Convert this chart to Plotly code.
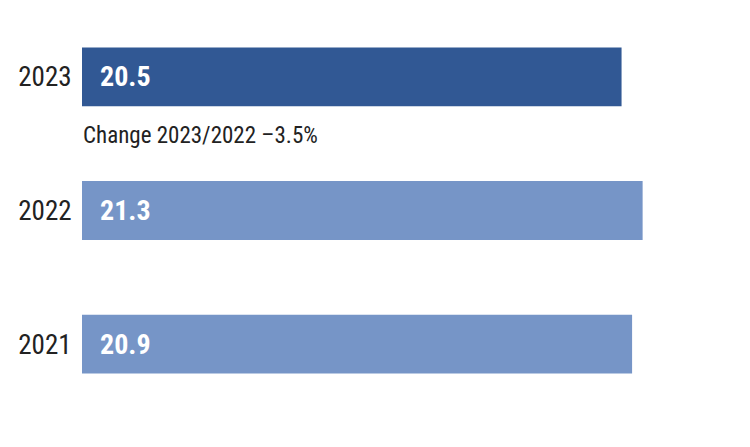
"""Horizontal bars for 2021-2023 with year-on-year change note."""

import plotly.graph_objects as go

YEARS = ["2021", "2022", "2023"]
VALUES = [20.9, 21.3, 20.5]
COLORS = ["#7695c7", "#7695c7", "#315894"]
CHANGE_NOTE = "Change 2023/2022 \u20133.5%"

FONT = "Roboto Condensed, DejaVu Sans Condensed, Liberation Sans Narrow, Roboto, sans-serif"

fig = go.Figure(
    go.Bar(
        x=VALUES,
        y=YEARS,
        orientation="h",
        marker=dict(color=COLORS, line=dict(width=0)),
        width=0.44,
        hoverinfo="skip",
    )
)

# value labels inside the bars, left aligned (category axis -> use index)
for i, value in enumerate(VALUES):
    fig.add_annotation(
        x=0,
        y=i,
        text=f"<b>{value:.1f}</b>",
        showarrow=False,
        xanchor="left",
        xshift=16,
        font=dict(family=FONT, size=28, color="white"),
    )

# note sits between the 2023 and 2022 bars
fig.add_annotation(
    x=0,
    y=YEARS.index("2023") - 0.44,
    text=CHANGE_NOTE,
    showarrow=False,
    xanchor="left",
    xshift=-1,
    font=dict(family=FONT, size=23, color="#222222"),
)

# page body adds an 8px offset, so margins are trimmed to compensate
fig.update_layout(
    width=750,
    height=447,
    margin=dict(l=74, r=18, t=2, b=44),
    plot_bgcolor="white",
    paper_bgcolor="white",
    showlegend=False,
    xaxis=dict(range=[0, 25], visible=False, fixedrange=True),
    yaxis=dict(
        type="category",
        categoryorder="array",
        categoryarray=YEARS,
        range=[-0.5, 2.5],
        automargin=False,
        showgrid=False,
        showline=False,
        zeroline=False,
        ticks="outside",
        ticklen=4,
        tickcolor="white",
        tickfont=dict(family=FONT, size=27, color="#222222"),
        fixedrange=True,
    ),
)

fig.write_html("out.html")
